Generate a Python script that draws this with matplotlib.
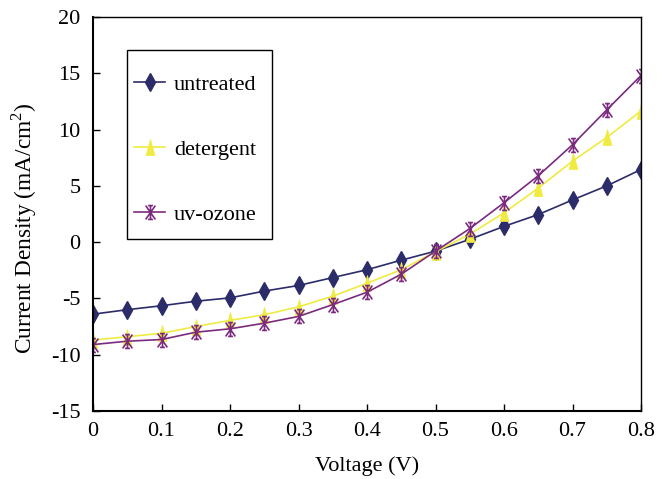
import matplotlib
matplotlib.use("Agg")
import matplotlib.pyplot as plt
from matplotlib.path import Path
from matplotlib.patches import Rectangle

plt.rcParams['font.family'] = ['Liberation Serif', 'DejaVu Serif']
plt.rcParams['axes.unicode_minus'] = False
plt.rcParams['mathtext.fontset'] = 'custom'
plt.rcParams['mathtext.rm'] = 'Liberation Serif'

voltage = [0.0, 0.05, 0.1, 0.15, 0.2, 0.25, 0.3, 0.35, 0.4, 0.45, 0.5, 0.55, 0.6, 0.65, 0.7, 0.75, 0.8]
untreated = [-6.4, -6.0, -5.65, -5.25, -4.95, -4.35, -3.85, -3.15, -2.45, -1.6, -0.8, 0.25, 1.4, 2.45, 3.75, 5.0, 6.45]
detergent = [-8.7, -8.4, -8.1, -7.5, -6.95, -6.45, -5.75, -4.8, -3.65, -2.45, -0.85, 0.7, 2.6, 4.8, 7.2, 9.3, 11.65]
uv_ozone = [-9.1, -8.8, -8.65, -8.0, -7.7, -7.2, -6.6, -5.55, -4.45, -2.85, -0.8, 1.2, 3.5, 5.9, 8.65, 11.75, 14.8]

series_labels = ['untreated', 'detergent', 'uv-ozone']
xticks = [0, 0.1, 0.2, 0.3, 0.4, 0.5, 0.6, 0.7, 0.8]
xtick_labels = ['0', '0.1', '0.2', '0.3', '0.4', '0.5', '0.6', '0.7', '0.8']
yticks = [-15, -10, -5, 0, 5, 10, 15, 20]

# Excel-style star marker: X with a vertical stroke
star_path = Path([(-0.7, -1), (0.7, 1), (-0.7, 1), (0.7, -1), (0, -1), (0, 1),
                  (-0.35, 1), (0.35, 1), (-0.35, -1), (0.35, -1)],
                 [Path.MOVETO, Path.LINETO, Path.MOVETO, Path.LINETO, Path.MOVETO, Path.LINETO,
                  Path.MOVETO, Path.LINETO, Path.MOVETO, Path.LINETO])
tri_path = Path([(-0.55, -1), (0.55, -1), (0, 1), (-0.55, -1)],
                [Path.MOVETO, Path.LINETO, Path.LINETO, Path.CLOSEPOLY])

fs = 16
W, H = 670, 479
L, R, T, B = 93, 641, 17, 411
fig = plt.figure(figsize=(6.7, 4.79), dpi=100)
ax = fig.add_axes([L/W, 1 - B/H, (R-L)/W, (B-T)/H])

ax.plot(voltage, untreated, color='#2b2c69', lw=1.2, marker='d', ms=9, mfc='#2b2c69', mec='#2b2c69', label=series_labels[0])
ax.plot(voltage, detergent, color='#efeb40', lw=1.2, marker=tri_path, ms=11.5, mfc='#efeb40', mec='#efeb40', mew=0.5, label=series_labels[1])
ax.plot(voltage, uv_ozone, color='#7b2a80', lw=1.2, marker=star_path, ms=10, mew=1.2, mec='#7b2a80', mfc='none', label=series_labels[2])

ax.set_xlim(0, 0.8)
ax.set_ylim(-15, 20)
ax.set_xticks(xticks)
ax.set_xticklabels(xtick_labels)
ax.set_yticks(yticks)
ax.tick_params(direction='in', length=5, labelsize=fs, width=1)
ax.tick_params(axis='x', pad=8)
ax.tick_params(axis='y', pad=9)
for s in ['left', 'bottom']:
    ax.spines[s].set_linewidth(1.5)
for s in ['top', 'right']:
    ax.spines[s].set_linewidth(1.0)

ax.set_xlabel('Voltage (V)', fontsize=fs, labelpad=11)
ax.set_ylabel('Current Density (mA/cm$^{2}$)', fontsize=16.8)
ax.yaxis.set_label_coords((39 - L) / (R - L), 1 - (228 - T) / (B - T))


def px2ax(x, y):
    return ((x - L) / (R - L), 1 - (y - T) / (B - T))


# legend frame
x0, y1 = px2ax(127, 50)
x1, y0 = px2ax(272, 239)
ax.add_patch(Rectangle((x0, y0), x1 - x0, y1 - y0, transform=ax.transAxes,
                       facecolor='white', edgecolor='black', lw=1.0, zorder=4))

lx, ly = px2ax(134, 74)
leg = ax.legend(loc='upper left', bbox_to_anchor=(lx, ly), fontsize=fs,
                frameon=False, labelspacing=2.0,
                handlelength=1.4, borderpad=0, handletextpad=0.4, borderaxespad=0)
leg.set_zorder(5)

fig.savefig('out.png', dpi=100)
